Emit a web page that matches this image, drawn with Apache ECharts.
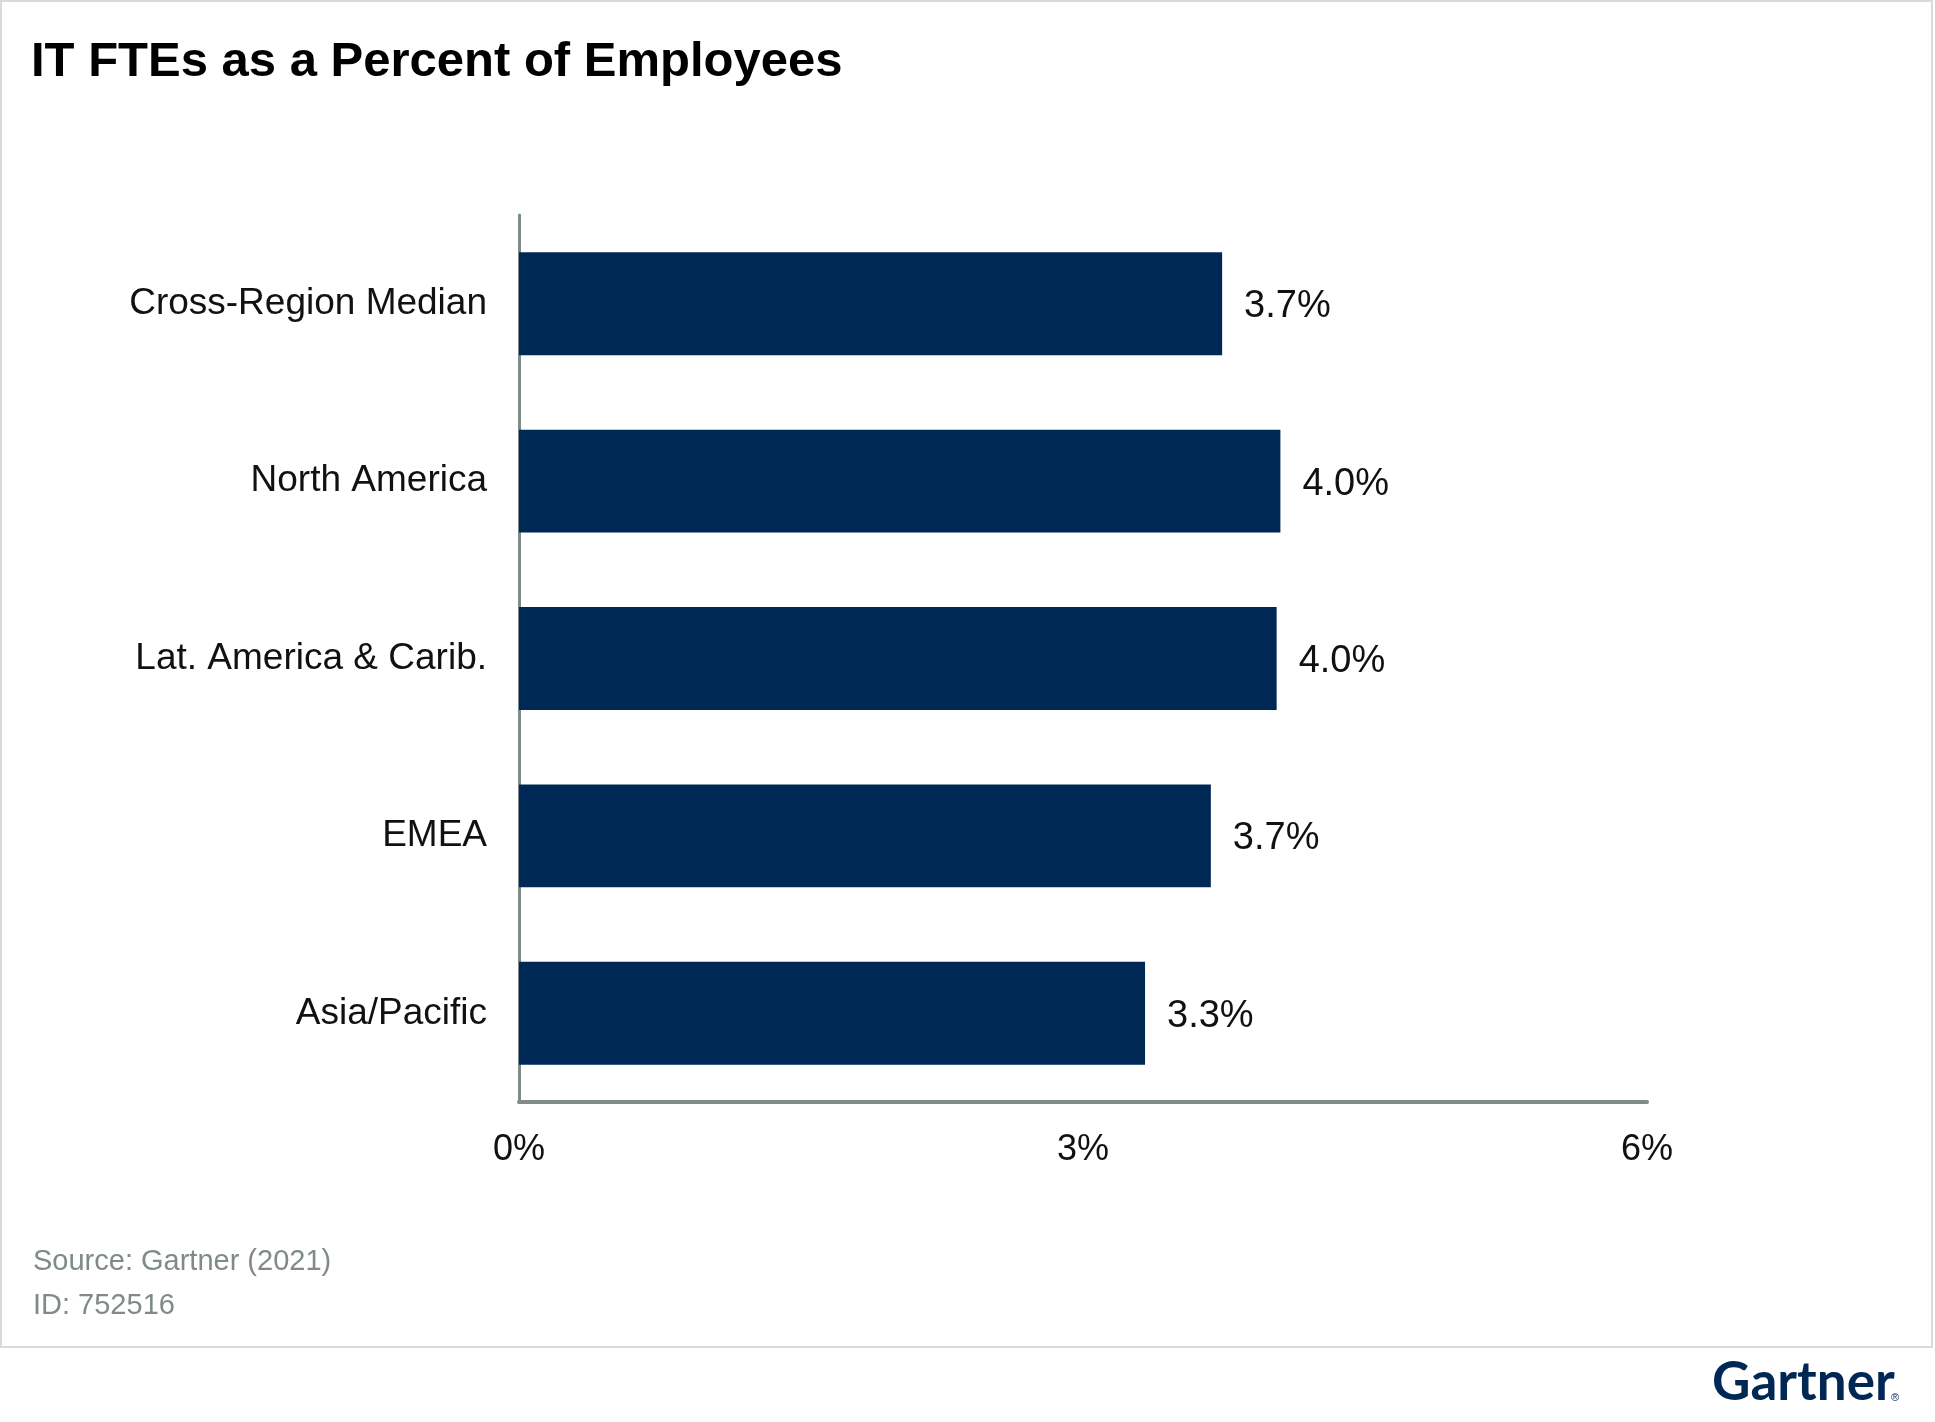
<!DOCTYPE html>
<html>
<head>
<meta charset="utf-8">
<title>IT FTEs as a Percent of Employees</title>
<script src="https://cdn.jsdelivr.net/npm/echarts@6/dist/echarts.min.js"></script>
<style>
html, body { margin: 0; padding: 0; background: #fff; }
#main { width: 1935px; height: 1422px; }
</style>
</head>
<body>
<div id="main"></div>
<script>
// data
var regions = ['Cross-Region Median', 'North America', 'Lat. America & Carib.', 'EMEA', 'Asia/Pacific'];
var ftePct = [3.74, 4.05, 4.03, 3.68, 3.33];
var valueLabels = ['3.7%', '4.0%', '4.0%', '3.7%', '3.3%'];
var xTicks = [0, 3, 6];

var font = '"Liberation Sans", Arial, Helvetica, sans-serif';
var navy = '#002855';
var axisGray = '#7f8a8a';

var chart = echarts.init(document.getElementById('main'));
chart.setOption({
    backgroundColor: '#fff',
    animation: false,
    title: {
        text: 'IT FTEs as a Percent of Employees',
        left: 26,
        top: 33,
        textStyle: {
            fontFamily: font,
            fontWeight: 'bold',
            fontSize: 49,
            color: '#000'
        }
    },
    grid: {
        left: 519,
        right: 288,
        top: 215,
        bottom: 320,
        containLabel: false
    },
    xAxis: {
        type: 'value',
        min: xTicks[0],
        max: xTicks[xTicks.length - 1],
        interval: xTicks[1] - xTicks[0],
        splitLine: { show: false },
        axisTick: { show: false },
        axisLine: { show: true, lineStyle: { color: axisGray, width: 4 } },
        axisLabel: {
            margin: 30,
            fontFamily: font,
            fontSize: 36,
            color: '#111',
            formatter: '{value}%'
        }
    },
    yAxis: {
        type: 'category',
        data: regions,
        inverse: true,
        axisTick: { show: false },
        axisLine: { show: true, lineStyle: { color: axisGray, width: 3 } },
        axisLabel: {
            margin: 32,
            fontFamily: font,
            fontSize: 37,
            color: '#111'
        }
    },
    series: [{
        type: 'bar',
        data: ftePct,
        barCategoryGap: '42%',
        itemStyle: { color: navy },
        label: {
            show: true,
            position: 'right',
            distance: 22,
            offset: [0, 3],
            fontFamily: font,
            fontSize: 38,
            color: '#111',
            formatter: function (p) { return valueLabels[p.dataIndex]; }
        }
    }],
    graphic: [
        {
            type: 'rect',
            shape: { x: 1, y: 1, width: 1931, height: 1346 },
            style: { fill: 'none', stroke: '#dadada', lineWidth: 2 },
            silent: true
        },
        {
            type: 'text',
            left: 33,
            top: 1247,
            style: { text: 'Source: Gartner (2021)', font: '29px ' + font, fill: '#808a8a' }
        },
        {
            type: 'text',
            left: 33,
            top: 1291,
            style: { text: 'ID: 752516', font: '29px ' + font, fill: '#808a8a' }
        },
        {
            type: 'text',
            left: 1712,
            top: 1356,
            style: { text: 'Gartner', font: 'bold 53px Lato, ' + font, fill: navy }
        },
        {
            type: 'text',
            left: 1891,
            top: 1392,
            style: { text: '\u00ae', font: '11px ' + font, fill: navy }
        }
    ]
});
</script>
</body>
</html>
